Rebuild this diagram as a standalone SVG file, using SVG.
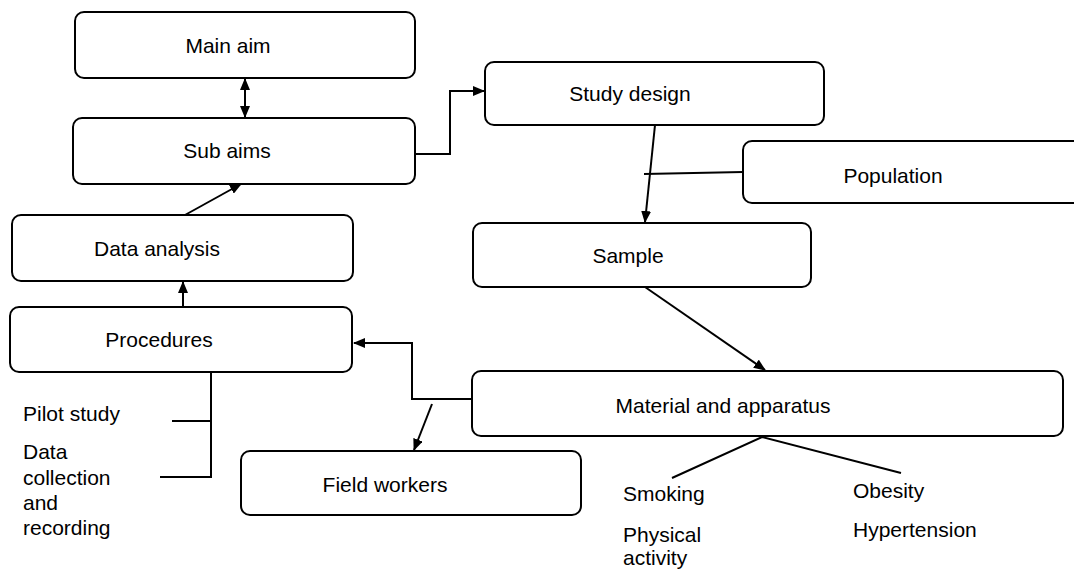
<svg xmlns="http://www.w3.org/2000/svg" width="1074" height="570" viewBox="0 0 1074 570">
<style>
.box{fill:#fff;stroke:#000;stroke-width:2}
.t{font-family:"Liberation Sans",Arial,sans-serif;font-size:21px;fill:#000}
.c{text-anchor:middle}
.ln{fill:none;stroke:#000;stroke-width:2}
</style>
<defs>
<marker id="ah" markerUnits="userSpaceOnUse" markerWidth="12" markerHeight="10" refX="11" refY="5" orient="auto-start-reverse">
<path d="M0,0 L12,5 L0,10 z" fill="#000"/>
</marker>
</defs>
<rect width="1074" height="570" fill="#fff"/>
<g id="connectors">
<line class="ln" x1="245" y1="79" x2="245" y2="117" marker-start="url(#ah)" marker-end="url(#ah)"/>
<polyline class="ln" points="415,154 450,154 450,91 484,91" marker-end="url(#ah)"/>
<line class="ln" x1="185" y1="215" x2="241" y2="184" marker-end="url(#ah)"/>
<line class="ln" x1="183" y1="307" x2="183" y2="282" marker-end="url(#ah)"/>
<line class="ln" x1="655" y1="125" x2="645" y2="222" marker-end="url(#ah)"/>
<line class="ln" x1="743" y1="172" x2="644" y2="174"/>
<line class="ln" x1="645" y1="287" x2="765" y2="370" marker-end="url(#ah)"/>
<polyline class="ln" points="472,399 412,399 412,343 354,343" marker-end="url(#ah)"/>
<line class="ln" x1="432" y1="404" x2="414" y2="450" marker-end="url(#ah)"/>
<polyline class="ln" points="211,372 211,477 160,477"/>
<line class="ln" x1="172" y1="421" x2="211" y2="421"/>
<polyline class="ln" points="672,478 762,437 901,473"/>
</g>
<g id="main-aim"><rect class="box" x="75" y="12" width="340" height="66" rx="9"/><text class="t c" x="228" y="53">Main aim</text></g>
<g id="sub-aims"><rect class="box" x="73" y="118" width="342" height="66" rx="9"/><text class="t c" x="227" y="158">Sub aims</text></g>
<g id="data-analysis"><rect class="box" x="12" y="215" width="341" height="66" rx="9"/><text class="t c" x="157" y="256">Data analysis</text></g>
<g id="procedures"><rect class="box" x="10" y="307" width="342" height="65" rx="9"/><text class="t c" x="159" y="347">Procedures</text></g>
<g id="study-design"><rect class="box" x="485" y="62" width="339" height="63" rx="9"/><text class="t c" x="630" y="101">Study design</text></g>
<g id="population"><rect class="box" x="743" y="141" width="360" height="62" rx="9"/><text class="t c" x="893" y="183">Population</text></g>
<g id="sample"><rect class="box" x="473" y="223" width="338" height="64" rx="9"/><text class="t c" x="628" y="263">Sample</text></g>
<g id="material"><rect class="box" x="472" y="371" width="591" height="65" rx="9"/><text class="t c" x="723" y="413">Material and apparatus</text></g>
<g id="field-workers"><rect class="box" x="241" y="451" width="340" height="64" rx="9"/><text class="t c" x="385" y="492">Field workers</text></g>
<g id="procedure-items">
<text class="t" x="23" y="421">Pilot study</text>
<text class="t" x="23" y="459">Data</text>
<text class="t" x="23" y="485">collection</text>
<text class="t" x="23" y="510">and</text>
<text class="t" x="23" y="535">recording</text>
</g>
<g id="material-items">
<text class="t" x="623" y="501">Smoking</text>
<text class="t" x="623" y="542">Physical</text>
<text class="t" x="623" y="565">activity</text>
<text class="t" x="853" y="498">Obesity</text>
<text class="t" x="853" y="537">Hypertension</text>
</g>
</svg>
